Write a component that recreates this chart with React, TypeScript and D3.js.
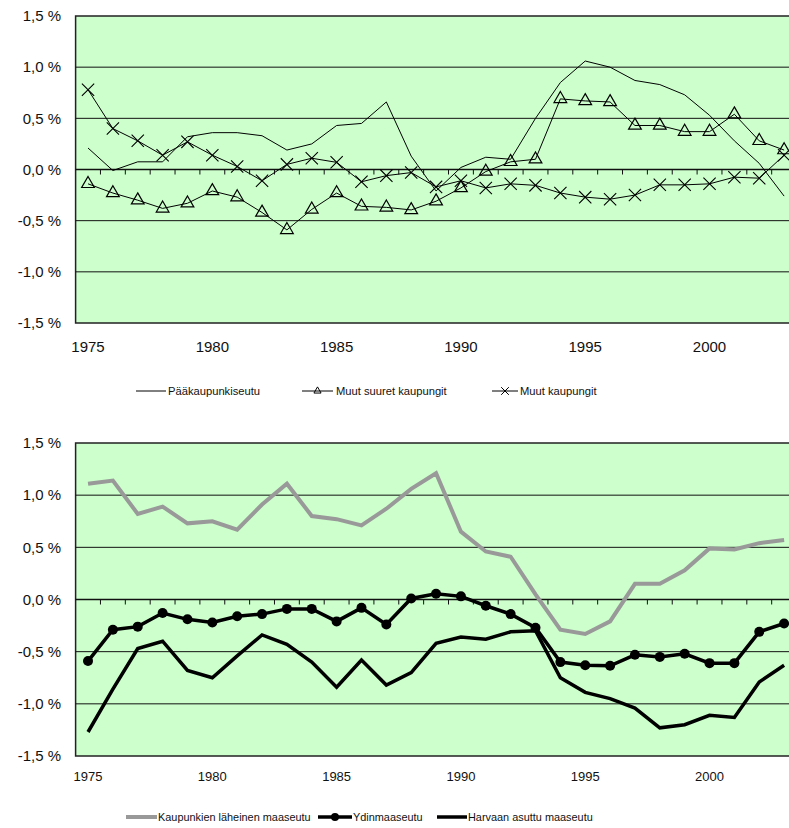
import React from 'react';
import * as d3 from 'd3';

const years = d3.range(1975, 2004);
const yTicks = [-1.5, -1.0, -0.5, 0, 0.5, 1.0, 1.5];
const xLabelYears = [1975, 1980, 1985, 1990, 1995, 2000];

// top chart
const paakaupunkiseutu = [0.21, -0.01, 0.075, 0.075, 0.32, 0.36, 0.36, 0.33, 0.19, 0.25, 0.43, 0.45, 0.66, 0.13, -0.21, 0.02, 0.12, 0.1, 0.5, 0.85, 1.06, 1.0, 0.87, 0.83, 0.73, 0.53, 0.28, 0.06, -0.26];
const muutSuuret = [-0.14, -0.23, -0.3, -0.38, -0.33, -0.21, -0.27, -0.42, -0.59, -0.39, -0.23, -0.36, -0.37, -0.395, -0.31, -0.18, -0.02, 0.075, 0.1, 0.69, 0.67, 0.66, 0.43, 0.43, 0.37, 0.37, 0.54, 0.28, 0.19];
const muutKaupungit = [0.78, 0.4, 0.28, 0.14, 0.27, 0.14, 0.03, -0.11, 0.05, 0.11, 0.07, -0.12, -0.06, -0.03, -0.17, -0.11, -0.18, -0.14, -0.155, -0.23, -0.27, -0.29, -0.25, -0.15, -0.15, -0.14, -0.075, -0.085, 0.14];

// bottom chart
const laheinenMaaseutu = [1.11, 1.14, 0.82, 0.89, 0.73, 0.75, 0.67, 0.91, 1.11, 0.8, 0.77, 0.71, 0.87, 1.06, 1.21, 0.65, 0.46, 0.41, 0.05, -0.29, -0.33, -0.21, 0.15, 0.15, 0.28, 0.49, 0.48, 0.54, 0.57];
const ydinmaaseutu = [-0.59, -0.29, -0.26, -0.13, -0.19, -0.22, -0.16, -0.14, -0.09, -0.09, -0.21, -0.08, -0.24, 0.01, 0.055, 0.03, -0.06, -0.14, -0.27, -0.6, -0.63, -0.635, -0.53, -0.55, -0.52, -0.61, -0.61, -0.31, -0.23];
const harvaanAsuttu = [-1.27, -0.86, -0.47, -0.4, -0.68, -0.75, -0.54, -0.34, -0.43, -0.6, -0.84, -0.58, -0.82, -0.7, -0.42, -0.36, -0.38, -0.31, -0.3, -0.75, -0.89, -0.95, -1.04, -1.23, -1.2, -1.11, -1.13, -0.79, -0.63];

const FONT = 'Arial, "Liberation Sans", sans-serif';
const BG = '#CCFFCC';

const x = d3.scaleBand<number>().domain(years).range([75.6, 75.6 + 29 * 24.86]);
const cx = (yr: number) => (x(yr) as number) + x.bandwidth() / 2;
const fmt = (v: number) => `${d3.format('.1f')(v).replace('.', ',').replace('−', '-')} %`;

interface PanelProps {
  top: number;
  bottom: number;
  labelSize: number;
  labelY: number;
  children: (y: d3.ScaleLinear<number, number>) => React.ReactNode;
}

const Panel: React.FC<PanelProps> = ({ top, bottom, labelSize, labelY, children }) => {
  const y = d3.scaleLinear().domain([-1.5, 1.5]).range([bottom, top]);
  const [x0, x1] = x.range();
  return (
    <g>
      <rect x={x0} y={top} width={x1 - x0} height={bottom - top} fill={BG} stroke="#222" strokeWidth={1.5} />
      {yTicks.filter(t => t > -1.5 && t < 1.5).map(t => (
        <line key={t} x1={x0} x2={x1} y1={y(t)} y2={y(t)} stroke="#111" strokeWidth={t === 0 ? 1.5 : 1} />
      ))}
      {/* category ticks on zero line */}
      {years.slice(1).map(yr => (
        <line key={yr} x1={x(yr)} x2={x(yr)} y1={y(0)} y2={y(0) + 5} stroke="#111" strokeWidth={1} />
      ))}
      {yTicks.map(t => (
        <text key={t} x={61} y={y(t)} dy="0.35em" textAnchor="end" fontSize={15} fontFamily={FONT} fill="#111">
          {fmt(t)}
        </text>
      ))}
      {xLabelYears.map(yr => (
        <text key={yr} x={cx(yr)} y={labelY} dy="0.35em" textAnchor="middle" fontSize={labelSize} fontFamily={FONT} fill="#111">
          {yr}
        </text>
      ))}
      {children(y)}
    </g>
  );
};

const makeLine = (y: d3.ScaleLinear<number, number>) =>
  d3.line<number>().x((_, i) => cx(years[i])).y(d => y(d));

const triangle = d3.symbol(d3.symbolTriangle, 70)() || '';
const cross = d3.symbol(d3.symbolX, 100)() || '';

export default function App() {
  return (
    <svg width={789} height={828} style={{ position: 'absolute', left: 0, top: 0, background: '#fff' }}>
      <Panel top={16} bottom={323} labelSize={15} labelY={347}>
        {y => {
          const line = makeLine(y);
          return (
            <g fill="none" stroke="#000" strokeWidth={1}>
              <path d={line(paakaupunkiseutu) || ''} />
              <path d={line(muutSuuret) || ''} />
              <path d={line(muutKaupungit) || ''} />
              {muutSuuret.map((v, i) => (
                <path key={'t' + i} d={triangle} transform={`translate(${cx(years[i])},${y(v)})`} strokeWidth={1.2} />
              ))}
              {muutKaupungit.map((v, i) => (
                <path key={'x' + i} d={cross} transform={`translate(${cx(years[i])},${y(v)})`} strokeWidth={1.1} />
              ))}
            </g>
          );
        }}
      </Panel>

      {/* top legend */}
      <g fontFamily={FONT} fontSize={11.2} fill="#111">
        <line x1={136} x2={166} y1={391} y2={391} stroke="#000" />
        <text x={168} y={391} dy="0.35em">Pääkaupunkiseutu</text>
        <line x1={302} x2={333} y1={391} y2={391} stroke="#000" />
        <path d={d3.symbol(d3.symbolTriangle, 22)() || ''} transform="translate(317.5,391)" fill="none" stroke="#000" />
        <text x={336} y={391} dy="0.35em">Muut suuret kaupungit</text>
        <line x1={492} x2={518} y1={391} y2={391} stroke="#000" />
        <path d={d3.symbol(d3.symbolX, 40)() || ''} transform="translate(505,391)" fill="none" stroke="#000" />
        <text x={520} y={391} dy="0.35em">Muut kaupungit</text>
      </g>

      <Panel top={443} bottom={756} labelSize={13} labelY={776}>
        {y => {
          const line = makeLine(y);
          return (
            <g fill="none" strokeLinejoin="miter">
              <path d={line(laheinenMaaseutu) || ''} stroke="#999999" strokeWidth={4} />
              <path d={line(harvaanAsuttu) || ''} stroke="#000" strokeWidth={3.5} />
              <path d={line(ydinmaaseutu) || ''} stroke="#000" strokeWidth={3.5} />
              {ydinmaaseutu.map((v, i) => (
                <circle key={i} cx={cx(years[i])} cy={y(v)} r={5} fill="#000" />
              ))}
            </g>
          );
        }}
      </Panel>

      {/* bottom legend */}
      <g fontFamily={FONT} fontSize={10.9} fill="#111">
        <line x1={126} x2={157} y1={817} y2={817} stroke="#999999" strokeWidth={4} />
        <text x={158} y={817} dy="0.35em">Kaupunkien läheinen maaseutu</text>
        <line x1={318} x2={352} y1={817} y2={817} stroke="#000" strokeWidth={3.5} />
        <circle cx={335} cy={817} r={4} fill="#000" />
        <text x={353} y={817} dy="0.35em">Ydinmaaseutu</text>
        <line x1={437} x2={467} y1={817} y2={817} stroke="#000" strokeWidth={3.5} />
        <text x={468} y={817} dy="0.35em">Harvaan asuttu maaseutu</text>
      </g>
    </svg>
  );
}
